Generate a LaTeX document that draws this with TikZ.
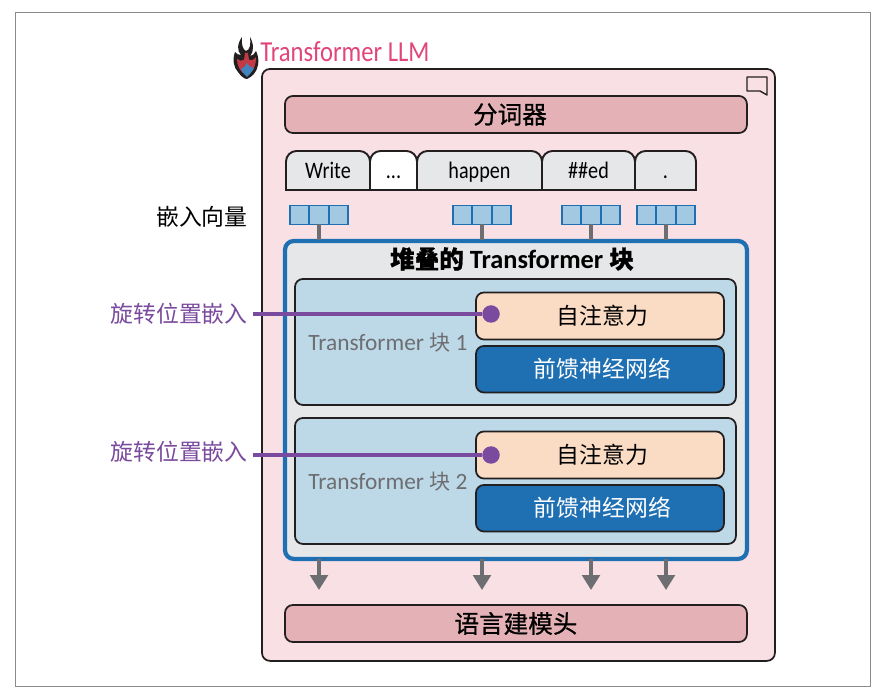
\documentclass[tikz,border=0pt]{standalone}
\usepackage{fontspec}
\setmainfont{Carlito}
\newfontfamily\cjk{Noto Sans CJK SC}
\newfontfamily\cjkheavy[FakeBold=0.8]{Noto Sans CJK SC}
\newfontfamily\narrowlatin[FakeStretch=0.85]{Carlito}
\usetikzlibrary{calc,arrows.meta}
\definecolor{llmpink}{HTML}{F9E0E4}
\definecolor{headpink}{HTML}{E4B2B6}
\definecolor{tokengray}{HTML}{E6E7E9}
\definecolor{stackblue}{HTML}{1F70B3}
\definecolor{blockblue}{HTML}{BDD8E7}
\definecolor{cellblue}{HTML}{A3C8E2}
\definecolor{attnpeach}{HTML}{FADCC5}
\definecolor{rotpurple}{HTML}{7A4A9E}
\definecolor{linkgray}{HTML}{6D6E71}
\definecolor{llmred}{HTML}{E2457A}
\definecolor{flamered}{HTML}{C23A45}
\definecolor{outline}{HTML}{231F20}
\newcommand{\tokdots}{...}

\begin{document}
\begin{tikzpicture}[x=0.02cm,y=-0.02cm]
\path [use as bounding box] (0,0) rectangle (886,695);
\tikzstyle{panel} = [draw=outline, line width=1pt, rounded corners=4.5pt, inner sep=0pt, outer sep=0pt]
\tikzstyle{head} = [panel, fill=headpink, font=\cjkheavy\fontsize{14}{16}\selectfont]
\tikzstyle{attn} = [panel, fill=attnpeach, font=\cjk\fontsize{13}{15}\selectfont]
\tikzstyle{ffn} = [panel, fill=stackblue, text=white, font=\cjk\fontsize{13}{15}\selectfont]
\tikzstyle{block} = [panel, fill=blockblue]
\tikzstyle{cell} = [draw=stackblue, fill=cellblue, line width=1pt, minimum width=0.38cm, minimum height=0.38cm, inner sep=0pt, outer sep=0pt]
\tikzstyle{rot} = [rotpurple, font=\cjk\fontsize{13}{15}\selectfont, anchor=east]
\tikzstyle{rotline} = [draw=rotpurple, line width=2.4pt]
\tikzstyle{dot} = [circle, fill=rotpurple, minimum size=0.35cm, inner sep=0pt]
\tikzstyle{tokenlabel} = [font=\narrowlatin\fontsize{13.5}{16}\selectfont, text=black, anchor=base, inner sep=0pt]
\tikzstyle{blocklabel} = [text=linkgray, font=\fontsize{13.3}{16}\selectfont]
\tikzstyle{link} = [draw=linkgray, line width=2pt]

% outer frame and model panel
\draw[draw=linkgray!80, line width=0.5pt] (15,12) rectangle (870,686);
\node[panel, fill=llmpink, minimum width=10.26cm, minimum height=11.84cm, anchor=north west] (llm) at (262,69) {};
\node[anchor=west, inner sep=0pt, text=llmred, font=\narrowlatin\fontsize{16.5}{18}\selectfont] (llmtitle) at (260,52) {Transformer LLM};

% flame
\fill[outline] (242,37) .. controls (237,44) and (237,51) .. (241,55) .. controls (239,55) and (236,54) .. (235,52) .. controls (232,60) and (234,68) .. (238,72) .. controls (241,76) and (244,79) .. (247,79) .. controls (252,77) and (257,72) .. (258,65) .. controls (259,60) and (258,55) .. (256,51) .. controls (255,54) and (252,56) .. (250,56) .. controls (254,52) and (254,44) .. (250,37) .. controls (251,44) and (250,50) .. (246,51) .. controls (243,50) and (241,44) .. (242,37) -- cycle;
\fill[flamered] (237,59) .. controls (237,66) and (240,70) .. (243,73) -- (250,73) .. controls (254,70) and (256,65) .. (256,57) .. controls (254,60) and (251,61) .. (249,60) -- (248,53) -- (245,53) -- (244,60) .. controls (242,61) and (239,61) .. (237,59) -- cycle;
\fill[stackblue!85] (241,69) .. controls (244,68) and (246,66) .. (247,63) .. controls (248,66) and (251,68) .. (254,68) .. controls (252,72) and (249,75) .. (247,77) .. controls (245,75) and (242,72) .. (241,69) -- cycle;

% comment icon
\draw[draw=outline, line width=0.8pt, line join=round] (747,77) -- (767,77) -- (767,95) -- (760,91) -- (747,91) -- cycle;

% tokenizer
\node[head, minimum width=9.24cm, minimum height=0.74cm, anchor=north west] (tokenizer) at (285,96) {分词器\hspace*{2.4mm}};

% tokens
\foreach \xa/\xb/\tok/\shade/\name in {286/370/Write/tokengray/write,417/542/happen/tokengray/happen,542/635/\#\#ed/tokengray/ed,635/696/{.}/tokengray/stop,370/417/\tokdots/white/dots} {
  \draw[draw=outline, line width=1.1pt, fill=\shade, rounded corners=6pt] (\xa,190) [sharp corners] -- (\xa,178) [rounded corners=6pt] -- (\xa,151) -- (\xb,151) -- (\xb,178) [sharp corners] -- (\xb,190) -- cycle;
  \node[tokenlabel] (\name) at ({(\xa+\xb)/2},179) {\tok};
}

% embeddings
\node[font=\cjk\fontsize{13}{15}\selectfont, anchor=east, inner sep=0pt] (embedlabel) at (248,217) {嵌入向量};
\node[draw=stackblue, line width=2.4pt, fill=tokengray, rounded corners=5pt, outer sep=0pt, minimum width=9.24cm, minimum height=6.36cm, anchor=north west] (stack) at (285,241) {};
\foreach \cx/\name in {319/a,482/b,591/c,666/d} {
  \coordinate (top\name) at (\cx,240);
  \coordinate (bot\name) at (\cx,559);
  \coordinate (end\name) at (\cx,590);
  \node[cell] (cell\name 1) at (\cx-19.3,215) {};
  \node[cell] (cell\name 3) at (\cx+19.3,215) {};
  \node[cell] (cell\name 2) at (\cx,215) {};
  \draw[link] (cell\name 2.south) -- (top\name);
  \draw[link, -{Triangle[length=8.5pt,width=10pt]}] (bot\name) -- (end\name);
}
\node[font=\bfseries\fontsize{15}{16}\selectfont] (stacktitle) at (512,259) {{\cjkheavy\fontsize{14}{16}\selectfont 堆叠的} Transformer {\cjkheavy\fontsize{14}{16}\selectfont 块}};

% blocks
\foreach \top/\num/\roty/\lay in {279/1/314/314,418/2/455/452} {
  \node[block, minimum width=8.82cm, minimum height=2.52cm, anchor=north west] (block\num) at (295,\top) {};
  \node[attn, minimum width=4.96cm, minimum height=0.94cm, anchor=north west] (attn\num) at (476,\top+13.5) {\hspace*{1mm}\raisebox{0.5pt}{自注意力}};
  \node[ffn, minimum width=4.96cm, minimum height=0.93cm, anchor=north west] (ffn\num) at (476,\top+67) {\hspace*{1mm}\raisebox{1.5pt}{前馈神经网络}};
  \node[blocklabel] (blocklabel\num) at (388,\top+64) {Transformer {\cjk\fontsize{12}{14}\selectfont 块} \num};
  \node[dot] (dot\num) at (491,\roty) {};
  \coordinate (rotstart\num) at (253,\roty);
  \draw[rotline] (rotstart\num) -- (dot\num);
  \node[rot, inner sep=0pt] (rot\num) at (248,\lay) {旋转位置嵌入};
}

% output head
\node[head, minimum width=9.24cm, minimum height=0.74cm, anchor=north west] (lmhead) at (285,605) {语言建模头};
\end{tikzpicture}
\end{document}
